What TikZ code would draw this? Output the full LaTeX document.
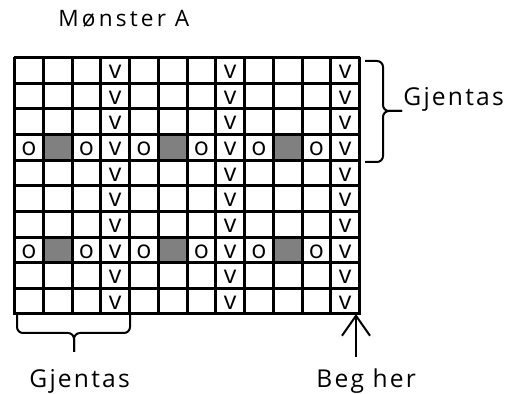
\documentclass[tikz,border=0pt]{standalone}
\usepackage{fontspec}
\setmainfont{Open Sans}
\newfontfamily\labelfont[LetterSpace=9]{Open Sans}
\newfontfamily\titlefont[LetterSpace=14]{Open Sans}
\usetikzlibrary{arrows.meta}

\tikzset{
  stitch/.style={anchor=base,inner sep=0pt,font=\fontsize{12.5}{13}\selectfont},
  caption/.style={anchor=base west,inner sep=0pt,font=\labelfont\fontsize{12.3}{14}\selectfont},
  bracket/.style={line width=1pt,rounded corners=3pt}
}

\begin{document}
\begin{tikzpicture}[x=0.5pt,y=-0.5pt,>={Straight Barb[length=10pt,width=14pt]}]
\useasboundingbox (0,0) rectangle (509,394);

\node[anchor=base west,inner sep=0pt,font=\titlefont\fontsize{11.3}{13}\selectfont] (title) at (58,27) {Mønster A};

\foreach \r in {4,8}
  \foreach \c in {2,6,10}
    \fill[gray] (14.5+28.75*\c-28.75,57.5+25.65*\r-25.65) rectangle (14.5+28.75*\c,57.5+25.65*\r);

\foreach \i in {0,...,12}
  \draw[line width=1.5pt] (14.5+28.75*\i,56.8) -- (14.5+28.75*\i,314.7);
\foreach \j in {0,...,10}
  \draw[line width=1.5pt] (13.8,57.5+25.65*\j) -- (360.2,57.5+25.65*\j);

\foreach \r in {1,...,10}
  \foreach \c in {4,8,12}
    \node[stitch] (v-\r-\c) at (14.5+28.75*\c-14.375,57.5+25.65*\r-4.5) {v};
\foreach \r in {4,8}
  \foreach \c in {1,3,5,7,9,11}
    \node[stitch] (o-\r-\c) at (14.5+28.75*\c-14.375,57.5+25.65*\r-4.5) {o};

\coordinate (rtop) at (365,61);
\coordinate (rbot) at (365,162);
\coordinate (rtip) at (402,111);
\draw[bracket] (rtop) -| (383,111) -- (rtip);
\draw[bracket] (rbot) -| (383,111) -- (rtip);
\node[caption] (rep1) at (403,106) {Gjentas};

\coordinate (bleft) at (17,315);
\coordinate (bright) at (130,315);
\coordinate (btip) at (74,352);
\draw[bracket] (bleft) |- (74,333) -- (btip);
\draw[bracket] (bright) |- (74,333) -- (btip);
\node[caption] (rep2) at (29,388) {Gjentas};

\coordinate (start) at (356,314);
\coordinate (foot) at (356,357);
\draw[->,line width=1pt] (foot) -- (start);
\node[caption] (beg) at (316,388) {Beg her};
\end{tikzpicture}
\end{document}
